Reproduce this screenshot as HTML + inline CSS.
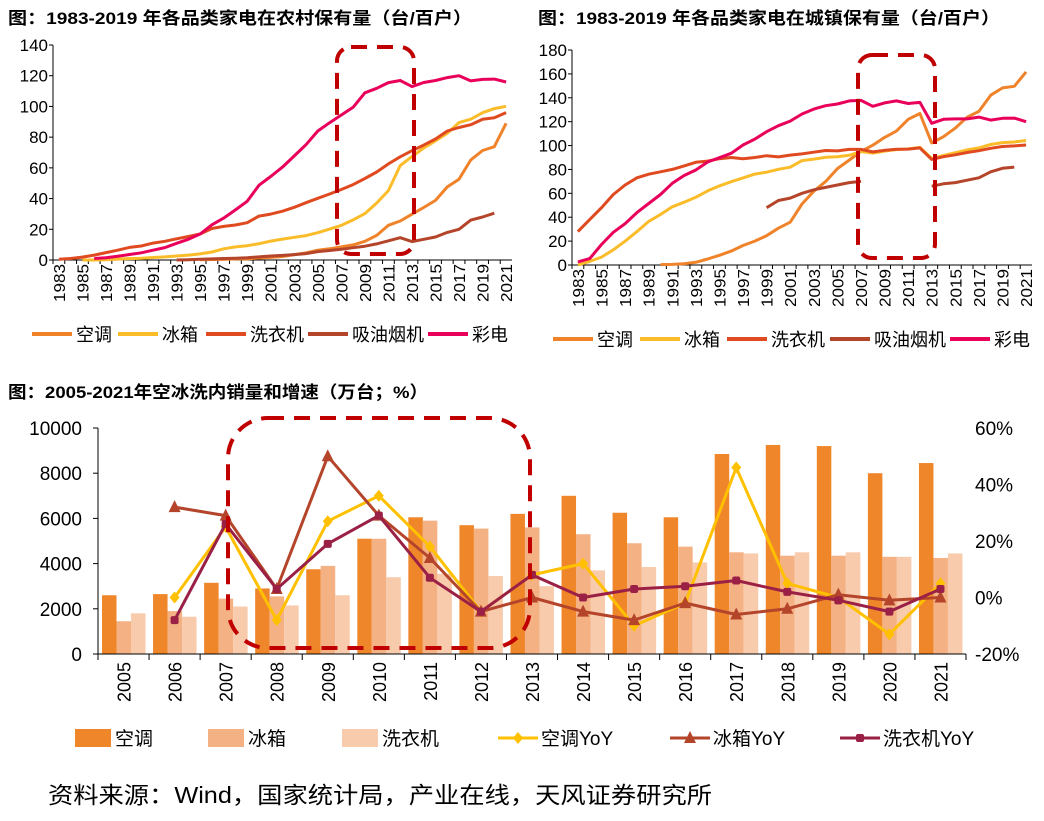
<!DOCTYPE html>
<html><head><meta charset="utf-8">
<style>
body{margin:0;background:#fff;width:1044px;height:816px;overflow:hidden;font-family:"Liberation Sans","Noto Sans CJK SC",sans-serif;}
svg text{font-family:"Liberation Sans","Noto Sans CJK SC",sans-serif;}
</style></head>
<body>
<svg id="c" width="1044" height="816">
<text x="8" y="24" font-size="17" font-weight="bold" textLength="464" lengthAdjust="spacingAndGlyphs">图：1983-2019 年各品类家电在农村保有量（台/百户）</text>
<text x="538" y="24" font-size="17" font-weight="bold" textLength="462" lengthAdjust="spacingAndGlyphs">图：1983-2019 年各品类家电在城镇保有量（台/百户）</text>
<text x="8" y="398" font-size="17" font-weight="bold" textLength="420" lengthAdjust="spacingAndGlyphs">图：2005-2021年空冰洗内销量和增速（万台；%）</text>
<text x="48" y="803" font-size="23" textLength="664" lengthAdjust="spacingAndGlyphs">资料来源：Wind，国家统计局，产业在线，天风证券研究所</text>
</svg>
<script>
const years=[];for(let y=1983;y<=2021;y++)years.push(y);
const N=null;
// rural
const rAC=[N,N,N,N,N,N,N,N,N,N,N,N,0.2,0.3,0.4,0.7,0.7,1.3,1.7,2.3,3.5,4.7,6.4,7.3,8.5,9.8,12.2,16,22.6,25.4,29.8,34.2,38.8,47.6,52.6,65.2,71.3,73.8,89];
const rFridge=[N,N,0,0,0.1,0.6,0.9,1.2,1.6,2,2.6,3.2,4,5.2,7.3,8.5,9.3,10.6,12.3,13.6,14.8,15.9,17.8,20.1,22.5,26.1,30.2,37.1,45.2,61.5,67.3,72.9,77.6,82.6,89.5,91.7,95.9,98.6,100.1,103.5].slice(0,39);
const rWasher=[0.5,1,1.9,3.2,4.8,6.4,8.2,9.1,11,12.2,13.8,15.3,16.9,20.5,21.9,22.8,24.3,28.6,29.9,31.8,34.3,37.3,40.2,43,45.9,49.1,53.1,57.3,62.6,67.2,71.2,74.8,78.8,84,86.3,88.1,91.6,92.6,96];
const rHood=[N,N,N,N,N,N,N,N,N,N,0,0.2,0.5,0.7,1,1.2,1.5,2,2.6,3,3.5,4.2,5.5,6.2,7,8,9,10.5,12.5,14.5,12,13.5,15,18,20,26,28,30.5,N];
const rTV=[N,N,N,1,1.5,2.5,3.6,4.7,6.4,8.1,10.9,13.5,16.9,22.9,27.3,32.6,38.2,48.7,54.4,60.5,67.8,75.1,84,89.4,94.4,99.4,108.9,111.8,115.5,116.9,112.9,115.6,116.9,118.8,120,116.6,117.6,117.8,115.9];
// urban
const uAC=[N,N,N,N,N,N,N,0.3,0.5,1,2.3,5,8.1,11.6,16.3,20,24.5,30.8,35.8,51.1,61.8,69.8,80.7,87.8,95.1,100.3,106.8,112.1,122,126.8,102.2,107.4,114.6,123.7,128.6,142.2,148.3,149.6,161.7];
const uFridge=[0,3,6.6,12.7,19.9,28,36.5,42.3,48.7,52.6,56.7,62,66.2,69.7,72.9,76.1,77.7,80.1,81.9,87.4,88.7,90.2,90.7,91.8,95,93.6,95.4,96.6,97.2,98.5,89.2,91.7,94,96.4,98,100.9,102.5,103,104.2];
const uWasher=[28,38,48,59,67,73,76,78,80,83,86,87,89,90,89,90,91.5,90.5,92,93,94.4,95.9,95.5,96.8,96.8,94.7,96,96.9,97,98,88.4,90.7,92.3,94.2,95.7,97.7,99.2,99.7,100.5];
const uHood=[N,N,N,N,N,N,N,N,N,N,N,N,N,N,N,N,48,54,56,60,63,65,67,69,70,N,N,N,N,N,66,68,69,71,73,78,81,82,N];
const uTV=[2.6,5.4,17.2,27.4,34.6,43.9,51.5,59,68.4,74.9,79.5,86.2,89.8,93.5,100.5,105.4,111.6,116.6,120.5,126.4,130.5,133.4,134.8,137.4,137.8,132.9,135.7,137.4,135.2,136.1,118.6,122,122.3,122.3,123.8,121.3,122.8,123,120];
// sales
const sYears=[2005,2006,2007,2008,2009,2010,2011,2012,2013,2014,2015,2016,2017,2018,2019,2020,2021];
const salesAC=[2600,2650,3150,2900,3750,5100,6050,5700,6200,7000,6250,6050,8850,9250,9200,8000,8450];
const salesFridge=[1450,1900,2450,2550,3900,5100,5900,5550,5600,5300,4900,4750,4500,4350,4350,4300,4250];
const salesWasher=[1800,1650,2100,2150,2600,3400,3550,3450,3000,3700,3850,4050,4450,4500,4500,4300,4450];
const yoyAC=[N,0,25,-8,27,36,18,-5,8,12,-10,-2,46,5,0,-13,5];
const yoyFridge=[N,32,29,3,50,29,14,-5,0,-5,-8,-2,-6,-4,1,-1,0];
const yoyWasher=[N,-8,26,3,19,29,7,-5,8,0,3,4,6,2,-1,-5,3];

const NS="http://www.w3.org/2000/svg";
const svg=document.getElementById('c');
function mk(tag,a,parent){const e=document.createElementNS(NS,tag);for(const k in a)e.setAttribute(k,a[k]);(parent||svg).appendChild(e);return e;}
const C={ac:'#f0832a',fr:'#fbbc2a',wa:'#e04a20',hood:'#b5452a',tv:'#e8005a'};

function lineChart(name,x0,x1,yTop,yBot,maxV,step,series,legendY,legendX){
  const g=mk('g',{});
  
  
  const cw=(x1-x0)/years.length;
  const xs=i=>x0+cw*(i+0.5);
  const ys=v=>yBot-(v/maxV)*(yBot-yTop);
  mk('line',{x1:x0,y1:yTop,x2:x0,y2:yBot,stroke:'#000','stroke-width':1},g);
  mk('line',{x1:x0,y1:yBot,x2:x1,y2:yBot,stroke:'#000','stroke-width':1},g);
  for(let v=0;v<=maxV;v+=step){
    mk('line',{x1:x0-4,y1:ys(v),x2:x0,y2:ys(v),stroke:'#000'},g);
    const t=mk('text',{x:x0-5,y:ys(v)+6,'font-size':17,'text-anchor':'end'},g);t.textContent=v;
    
    
  }
  years.forEach((y,i)=>{
    mk('line',{x1:x0+cw*i,y1:yBot,x2:x0+cw*i,y2:yBot+4,stroke:'#000'},g);
    if(i%2==0){const t=mk('text',{transform:`translate(${xs(i)+6},${yBot+4}) rotate(-90)`,'font-size':16,'text-anchor':'end',textLength:38,lengthAdjust:'spacingAndGlyphs'},g);t.textContent=y;
    
    }
  });
  series.forEach(s=>{
    let d='',pen=false;
    s.v.forEach((v,i)=>{if(v==null){pen=false;return;}d+=(pen?'L':'M')+xs(i).toFixed(1)+','+ys(v).toFixed(1);pen=true;});
    const p=mk('path',{d,fill:'none',stroke:s.c,'stroke-width':3,'stroke-linejoin':'round'},g);
    
    
  });
  series.forEach((s,k)=>{
    const lx=legendX[k];
    const l=mk('line',{x1:lx,y1:legendY,x2:lx+40,y2:legendY,stroke:s.c,'stroke-width':4},g);
    
    
    const t=mk('text',{x:lx+44,y:legendY+7,'font-size':18},g);t.textContent=s.label;
    
    
  });
}
lineChart('rural-ownership-chart',53,512,45,260,140,20,[
 {n:'ac',c:C.ac,v:rAC,label:'空调'},{n:'fridge',c:C.fr,v:rFridge,label:'冰箱'},{n:'washer',c:C.wa,v:rWasher,label:'洗衣机'},{n:'hood',c:C.hood,v:rHood,label:'吸油烟机'},{n:'tv',c:C.tv,v:rTV,label:'彩电'}],334,[32,118,206,308,428]);
lineChart('urban-ownership-chart',572,1032,50,265,180,20,[
 {n:'ac',c:C.ac,v:uAC,label:'空调'},{n:'fridge',c:C.fr,v:uFridge,label:'冰箱'},{n:'washer',c:C.wa,v:uWasher,label:'洗衣机'},{n:'hood',c:C.hood,v:uHood,label:'吸油烟机'},{n:'tv',c:C.tv,v:uTV,label:'彩电'}],339,[553,640,727,830,950]);

function box(name,x,y,w,h,rx){const r=mk('rect',{x,y,width:w,height:h,rx:rx||14,fill:'none',stroke:'#c00000','stroke-width':4,'stroke-dasharray':'16,10'});
 }
box('rural-highlight-box',337,47,77,207);
box('urban-highlight-box',858,55,77,203);

(function(){
  const g=mk('g',{});
  
  
  const x0=98,x1=966,yT=428,yB=654;
  const cw=(x1-x0)/sYears.length;
  const yl=v=>yB-v/10000*(yB-yT);
  const yr=p=>yB-(p+20)/80*(yB-yT);
  const bw=14.5;
  const bars=[[salesAC,'#f0862a','ac'],[salesFridge,'#f4b184','fridge'],[salesWasher,'#f8cbad','washer']];
  sYears.forEach((y,i)=>{
    bars.forEach((b,k)=>{
      const r=mk('rect',{x:x0+cw*i+4+k*bw,y:yl(b[0][i]),width:bw,height:yB-yl(b[0][i]),fill:b[1]},g);
      
      
    });
  });
  mk('line',{x1:x0,y1:yT,x2:x0,y2:yB,stroke:'#000'},g);
  mk('line',{x1:x0,y1:yB,x2:x1,y2:yB,stroke:'#000'},g);
  for(let v=0;v<=10000;v+=2000){
    mk('line',{x1:x0-5,y1:yl(v),x2:x0,y2:yl(v),stroke:'#000'},g);
    const t=mk('text',{x:x0-16,y:yl(v)+7,'font-size':19,'text-anchor':'end'},g);t.textContent=v;
    
    
  }
  for(let p=-20;p<=60;p+=20){
    const t=mk('text',{x:975,y:yr(p)+7,'font-size':19},g);t.textContent=p+'%';
    
    
  }
  sYears.forEach((y,i)=>{
    mk('line',{x1:x0+cw*i,y1:yB,x2:x0+cw*i,y2:yB+6,stroke:'#000'},g);
    const t=mk('text',{transform:`translate(${x0+cw*(i+0.5)+7},${yB+8}) rotate(-90)`,'font-size':18,'text-anchor':'end'},g);t.textContent=y;
    
    
  });
  mk('line',{x1:x0+cw*17,y1:yB,x2:x0+cw*17,y2:yB+6,stroke:'#000'},g);
  const lines=[[yoyAC,'#ffc000','diamond','ac-yoy'],[yoyFridge,'#b5452a','tri','fridge-yoy'],[yoyWasher,'#9b2045','circle','washer-yoy']];
  function marker(shape,x,y,c,parent){
    if(shape==='diamond')return mk('path',{d:`M${x},${y-6}L${x+5},${y}L${x},${y+6}L${x-5},${y}Z`,fill:c},parent);
    if(shape==='tri')return mk('path',{d:`M${x},${y-7}L${x+6},${y+5}L${x-6},${y+5}Z`,fill:c},parent);
    return mk('rect',{x:x-4,y:y-4,width:8,height:8,rx:2,fill:c},parent);
  }
  lines.forEach(L=>{
    let d='';
    L[0].forEach((v,i)=>{if(v==null)return;d+=(d?'L':'M')+(x0+cw*(i+0.5)).toFixed(1)+','+yr(v).toFixed(1);});
    const p=mk('path',{d,fill:'none',stroke:L[1],'stroke-width':3,'stroke-linejoin':'round'},g);
    
    
    L[0].forEach((v,i)=>{if(v==null)return;const m=marker(L[2],x0+cw*(i+0.5),yr(v),L[1],g);
      
      });
  });
  const lg=[[75,'rect','#f0862a','空调'],[208,'rect','#f4b184','冰箱'],[342,'rect','#f8cbad','洗衣机'],[498,'diamond','#ffc000','空调YoY'],[670,'tri','#b5452a','冰箱YoY'],[840,'circle','#9b2045','洗衣机YoY']];
  lg.forEach(e=>{
    let sw;
    if(e[1]==='rect'){sw=mk('rect',{x:e[0],y:729,width:36,height:18,fill:e[2]},g);}
    else{sw=mk('line',{x1:e[0],y1:738,x2:e[0]+40,y2:738,stroke:e[2],'stroke-width':3},g);marker(e[1],e[0]+20,738,e[2],g);}
    
    
    const t=mk('text',{x:e[0]+(e[1]==='rect'?40:43),y:745,'font-size':19},g);t.textContent=e[3];
    
    
  });
})();
box('sales-highlight-box',228,418,302,230,40);
</script>
</body></html>
